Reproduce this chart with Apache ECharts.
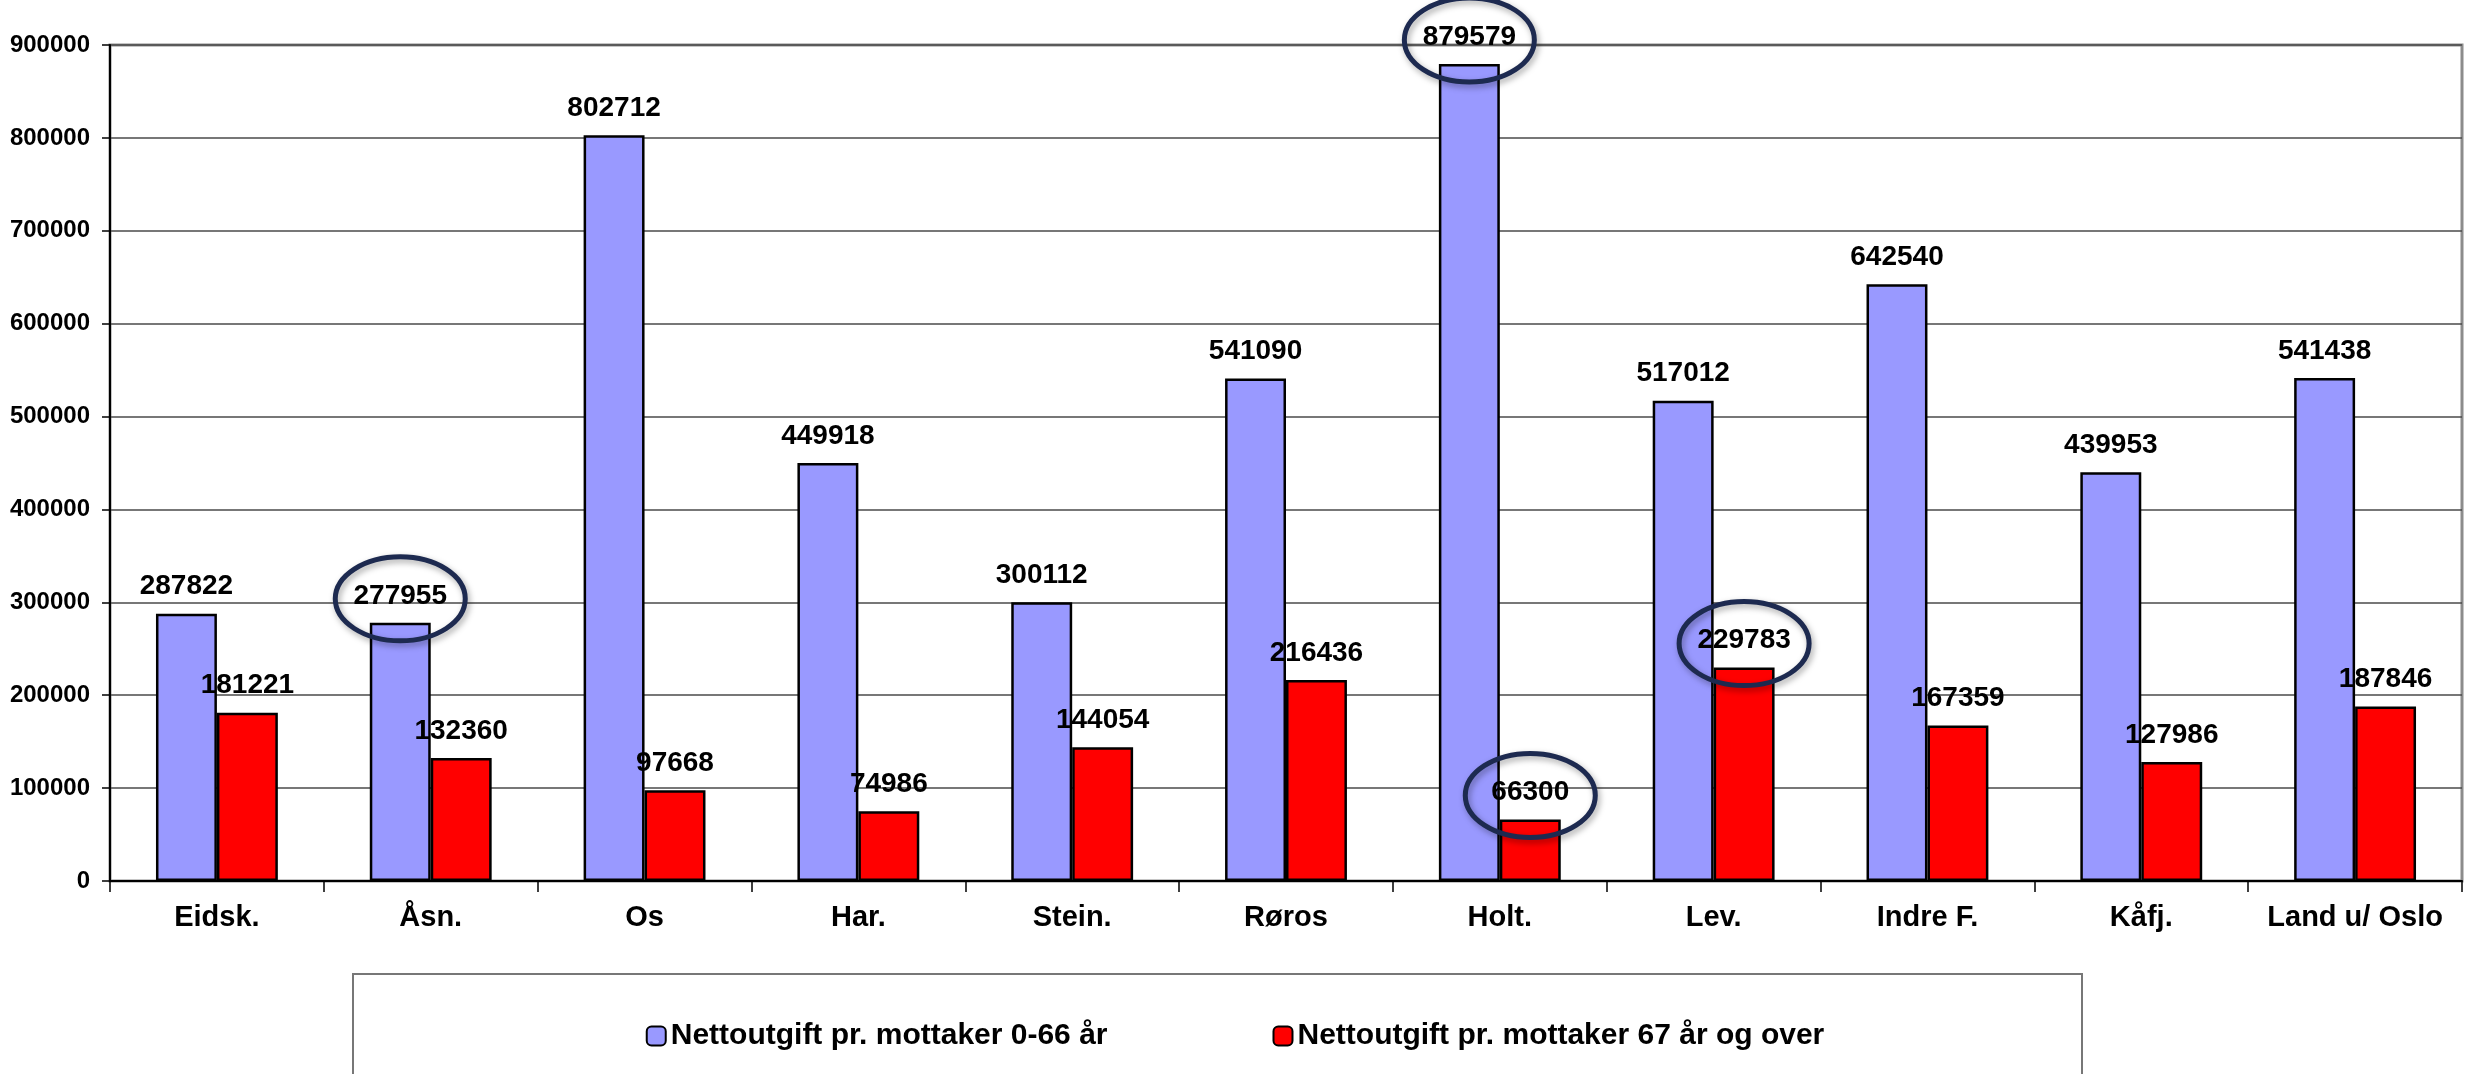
<!DOCTYPE html>
<html>
<head>
<meta charset="utf-8">
<title>Nettoutgift pr. mottaker</title>
<script src="https://cdn.jsdelivr.net/npm/echarts@6/dist/echarts.min.js"></script>
<style>
  html, body { margin: 0; padding: 0; background: #fff; }
  #chart { width: 2470px; height: 1074px; }
</style>
</head>
<body>
<div id="chart"></div>
<script>
// data
const categories = ['Eidsk.', 'Åsn.', 'Os', 'Har.', 'Stein.', 'Røros', 'Holt.', 'Lev.', 'Indre F.', 'Kåfj.', 'Land u/ Oslo']
const under67 = [287822, 277955, 802712, 449918, 300112, 541090, 879579, 517012, 642540, 439953, 541438]
const over67 = [181221, 132360, 97668, 74986, 144054, 216436, 66300, 229783, 167359, 127986, 187846]
const seriesNames = ['Nettoutgift pr. mottaker 0-66 år', 'Nettoutgift pr. mottaker 67 år og over']
const yMin = 0
const yMax = 900000
const yStep = 100000
// [seriesIndex, categoryIndex] of the circled values
const circled = [[0, 1], [0, 6], [1, 6], [1, 7]]

// narrow fonts are not installed, so a smaller regular sans stands in
const FONT = '"Liberation Sans Narrow", "Arial Narrow", "Liberation Sans", Arial, sans-serif'
const BAR_PCT = 0.285

const chart = echarts.init(document.getElementById('chart'))

function barSeries (name, data, color) {
  return {
    name: name,
    type: 'bar',
    data: data,
    barWidth: (BAR_PCT * 100) + '%',
    barGap: '0%',
    itemStyle: {
      color: color,
      borderColor: '#000',
      borderWidth: 2.5
    },
    label: {
      show: true,
      position: 'top',
      distance: 13,
      color: '#000',
      fontFamily: FONT,
      fontWeight: 'bold',
      fontSize: 28
    }
  }
}

const option = {
  backgroundColor: '#fff',
  animation: false,
  grid: {
    left: 110,
    right: 8,
    top: 45,
    bottom: 193,
    show: true,
    borderColor: '#8c8c8c',
    borderWidth: 3
  },
  legend: {
    top: 1016,
    left: 'center',
    itemWidth: 19,
    itemHeight: 19,
    itemGap: 165,
    textStyle: {
      color: '#000',
      fontFamily: FONT,
      fontWeight: 'bold',
      fontSize: 30
    },
    data: seriesNames
  },
  xAxis: {
    type: 'category',
    data: categories,
    axisLine: { lineStyle: { color: '#000', width: 2 } },
    axisTick: { show: true, length: 11, interval: 0, lineStyle: { color: '#000', width: 1.5 } },
    axisLabel: {
      interval: 0,
      margin: 22,
      color: '#000',
      fontFamily: FONT,
      fontWeight: 'bold',
      fontSize: 29
    }
  },
  yAxis: {
    type: 'value',
    min: yMin,
    max: yMax,
    interval: yStep,
    axisLine: { show: true, lineStyle: { color: '#000', width: 2 } },
    axisTick: { show: true, length: 8, lineStyle: { color: '#000', width: 1.5 } },
    splitLine: { show: true, lineStyle: { color: '#4a4a4a', width: 1.5 } },
    axisLabel: {
      margin: 20,
      color: '#000',
      fontFamily: FONT,
      fontWeight: 'bold',
      fontSize: 24,
      formatter: function (v) { return String(v) }
    }
  },
  series: [
    barSeries(seriesNames[0], under67, '#9999ff'),
    barSeries(seriesNames[1], over67, '#ff0000')
  ]
}

chart.setOption(option)

// legend frame and the hand-drawn rings round some labels
function drawExtras () {
  const seriesData = [under67, over67]
  const x0 = chart.convertToPixel({ gridIndex: 0 }, [0, 0])[0]
  const x1 = chart.convertToPixel({ gridIndex: 0 }, [1, 0])[0]
  const barW = (x1 - x0) * BAR_PCT
  const rings = circled.map(function (c) {
    const p = chart.convertToPixel({ gridIndex: 0 }, [c[1], seriesData[c[0]][c[1]]])
    const cx = p[0] + (c[0] === 0 ? -barW / 2 : barW / 2)
    return {
      type: 'ellipse',
      shape: { cx: cx, cy: p[1] - 24, rx: 65, ry: 42 },
      style: {
        fill: null,
        stroke: '#1d2a50',
        lineWidth: 5,
        shadowBlur: 6,
        shadowColor: 'rgba(0,0,0,0.35)',
        shadowOffsetX: 2,
        shadowOffsetY: 3
      },
      z: 100
    }
  })
  chart.setOption({
    graphic: [{
      type: 'rect',
      shape: { x: 353, y: 974, width: 1729, height: 140 },
      style: { fill: null, stroke: '#777', lineWidth: 2 },
      z: 0
    }].concat(rings)
  })
}
drawExtras()
</script>
</body>
</html>
